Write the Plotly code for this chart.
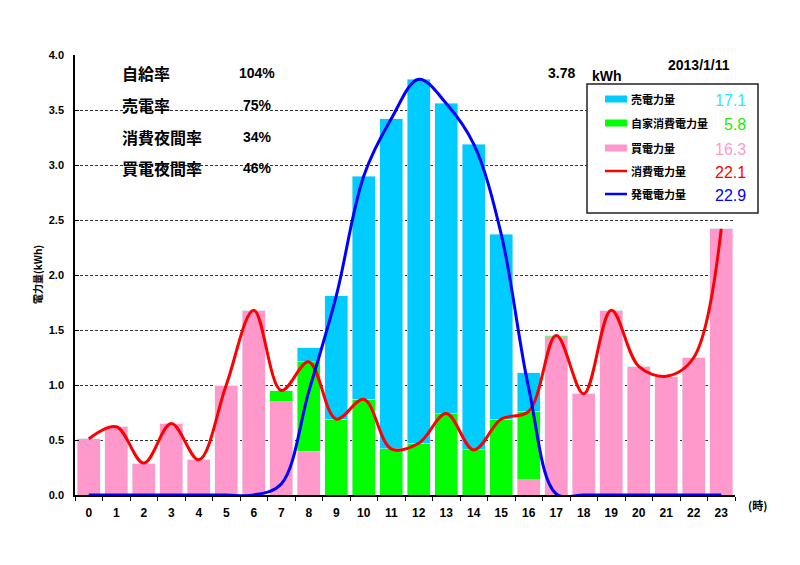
import plotly.graph_objects as go

# hourly data (kWh)
hours = list(range(24))
buy = [0.51, 0.62, 0.29, 0.65, 0.32, 1.00, 1.68, 0.85, 0.40, 0, 0, 0,
       0, 0, 0, 0, 0.14, 1.44, 0.92, 1.68, 1.17, 1.08, 1.25, 2.42]
self_use = [0, 0, 0, 0, 0, 0, 0, 0.10, 0.81, 0.69, 0.87, 0.42,
            0.47, 0.74, 0.41, 0.69, 0.62, 0.01, 0, 0, 0, 0, 0, 0]
sell = [0, 0, 0, 0, 0, 0, 0, 0, 0.13, 1.12, 2.03, 3.00,
        3.31, 2.82, 2.78, 1.68, 0.35, 0, 0, 0, 0, 0, 0, 0]
consume = [b + s for b, s in zip(buy, self_use)]
generate = [s + e for s, e in zip(self_use, sell)]

legend_names = ["売電力量", "自家消費電力量", "買電力量", "消費電力量", "発電電力量"]
legend_totals = ["17.1", "5.8", "16.3", "22.1", "22.9"]
legend_colors = ["#00CCFF", "#00FF00", "#FF99CC", "#FF0000", "#0000FF"]
total_colors = ["#22EEFF", "#22EE00", "#FF99CC", "#FF0000", "#0000FF"]

rate_names = ["自給率", "売電率", "消費夜間率", "買電夜間率"]
rate_values = ["104%", "75%", "34%", "46%"]

# plot area in pixels (page has an 8px body margin)
L, R, T, B = 75, 735, 55, 495
OFF = 8


def px(x):
    return (x - L) / (R - L)


def py(y):
    return (B - y) / (B - T)


fig = go.Figure()
fig.add_trace(go.Bar(x=hours, y=buy, marker_color="#FF99CC", width=0.82))
fig.add_trace(go.Bar(x=hours, y=self_use, marker_color="#00FF00", width=0.82))
fig.add_trace(go.Bar(x=hours, y=sell, marker_color="#00CCFF", width=0.82))
fig.add_trace(go.Scatter(x=hours, y=consume, mode="lines",
                         line=dict(color="#FF0000", width=3, shape="spline", smoothing=1)))
fig.add_trace(go.Scatter(x=hours, y=generate, mode="lines",
                         line=dict(color="#0000FF", width=3, shape="spline", smoothing=1)))

jp = "Noto Sans CJK JP"
en = "Liberation Sans"
ann = []
shapes = []


def note(x, y, text, font, xanchor="center", **kw):
    ann.append(dict(x=px(x), y=py(y), xref="paper", yref="paper", text=text,
                    showarrow=False, font=font, xanchor=xanchor, yanchor="middle", **kw))


# rates at top left
for i, (n, v) in enumerate(zip(rate_names, rate_values)):
    yy = [73, 105, 137, 168][i]
    note(120, yy, n, dict(family=jp, size=16, color="black", weight="bold"), xanchor="left")
    note(257, yy, v, dict(family=en, size=14, color="black", weight="bold"))

note(561, 73, "3.78", dict(family=en, size=14, color="black", weight="bold"))
note(607, 76, "kWh", dict(family=en, size=14, color="black", weight="bold"))
note(699, 65, "2013/1/11", dict(family=en, size=14, color="black", weight="bold"))

# legend box
shapes.append(dict(type="rect", xref="paper", yref="paper", x0=px(587), x1=px(758),
                   y0=py(213), y1=py(84), line=dict(color="#222", width=1.5),
                   fillcolor="white", layer="above"))
rows = [99, 123, 148, 171, 194]
for i, yy in enumerate(rows):
    if i < 3:
        shapes.append(dict(type="rect", xref="paper", yref="paper", x0=px(605), x1=px(627),
                           y0=py(yy + 3.5), y1=py(yy - 3.5), line=dict(width=0),
                           fillcolor=legend_colors[i], layer="above"))
    else:
        shapes.append(dict(type="line", xref="paper", yref="paper", x0=px(605), x1=px(627),
                           y0=py(yy), y1=py(yy), line=dict(color=legend_colors[i], width=2.5),
                           layer="above"))
    note(629, yy, legend_names[i], dict(family=jp, size=11, color="black", weight="bold"),
         xanchor="left")
    note(748, yy + 1, legend_totals[i], dict(family=en, size=16, color=total_colors[i]),
         xanchor="right")

# axis titles
note(37, 275, "電力量(kWh)", dict(family=jp, size=10, color="black", weight="bold"),
     textangle=-90)
note(757, 505, "(時)", dict(family=jp, size=11, color="black", weight="bold"))

fig.update_layout(
    width=800, height=565,
    margin=dict(l=L - OFF, r=800 - R + OFF, t=T - OFF, b=565 - B + OFF),
    paper_bgcolor="white", plot_bgcolor="white",
    barmode="stack", showlegend=False,
    annotations=ann, shapes=shapes,
    xaxis=dict(range=[-0.5, 23.5], tickmode="array", tickvals=hours,
               ticks="", showgrid=False, zeroline=False, ticklabelstandoff=6,
               showline=True, linecolor="black", linewidth=1.5,
               tickfont=dict(family=en, size=12, color="black", weight="bold"),
               minor=dict(tick0=-0.5, dtick=1, ticks="outside", ticklen=4,
                          tickcolor="black", showgrid=False)),
    yaxis=dict(range=[0, 4], dtick=0.5, tickformat=".1f", ticks="inside", ticklen=4,
               tickcolor="black", showline=True, linecolor="black", linewidth=1.5,
               showgrid=True, gridcolor="#333", griddash="3px,2px", gridwidth=1,
               zeroline=False, ticklabelstandoff=7,
               tickfont=dict(family=en, size=11, color="black", weight="bold")),
)

fig.write_html("out.html")
